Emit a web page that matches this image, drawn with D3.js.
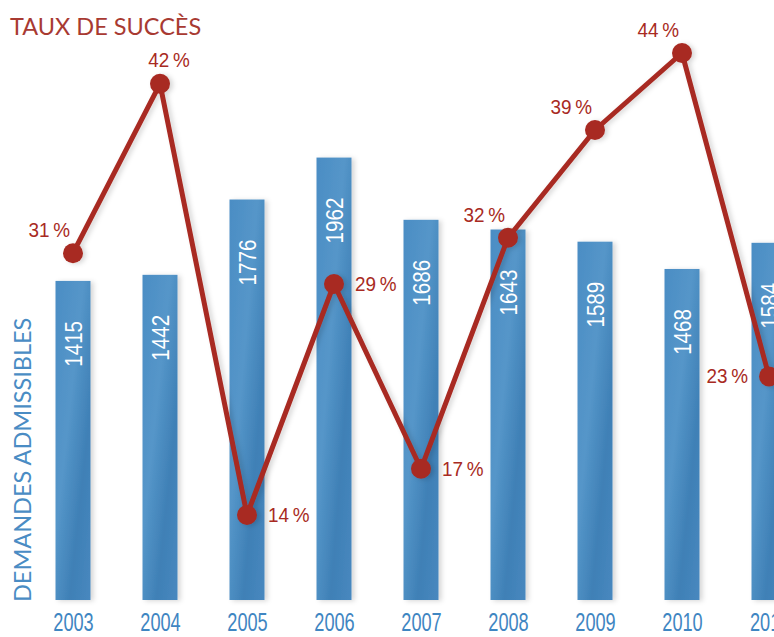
<!DOCTYPE html>
<html>
<head>
<meta charset="utf-8">
<script src="https://cdn.jsdelivr.net/npm/d3@7"></script>
<style>
  body { margin: 0; background: #fff; }
  svg { display: block; }
</style>
</head>
<body>
<svg id="chart"></svg>
<script>
// data
const years = ["2003", "2004", "2005", "2006", "2007", "2008", "2009", "2010", "2011"];
const demandes = [1415, 1442, 1776, 1962, 1686, 1643, 1589, 1468, 1584];
const taux = [31, 42, 14, 29, 17, 32, 39, 44, 23];
// where each % label sits relative to its dot
const labelSide = ["left-up", "up", "right", "right", "right", "left-up", "left-up", "left-up", "left"];

const W = 774, H = 637;
const red = "#a82a22";
const font = "'Liberation Sans', Arial, sans-serif";

const svg = d3.select("#chart").attr("width", W).attr("height", H);

const defs = svg.append("defs");
const grad = defs.append("linearGradient").attr("id", "barGrad")
    .attr("x1", 0).attr("y1", 0).attr("x2", 1).attr("y2", 1);
grad.append("stop").attr("offset", "0%").attr("stop-color", "#4b8dc4");
grad.append("stop").attr("offset", "40%").attr("stop-color", "#5596c9");
grad.append("stop").attr("offset", "70%").attr("stop-color", "#3f80b6");
grad.append("stop").attr("offset", "100%").attr("stop-color", "#4888bf");

const shadow = defs.append("filter").attr("id", "shadow")
    .attr("x", "-30%").attr("y", "-10%").attr("width", "160%").attr("height", "120%");
shadow.append("feDropShadow").attr("dx", 3).attr("dy", 1).attr("stdDeviation", 2.5)
    .attr("flood-color", "#000").attr("flood-opacity", 0.16);

// scales
const x = d3.scalePoint().domain(years).range([73, 769]);
const yBar = d3.scaleLinear().domain([0, 2000]).range([600, 149]);
const yPct = d3.scaleLinear().domain([10, 45]).range([576.6, 37.6]);
const barW = 35;

// bars
const bars = svg.append("g");
bars.selectAll("rect")
  .data(demandes)
  .join("rect")
    .attr("x", (d, i) => x(years[i]) - barW / 2)
    .attr("y", d => yBar(d))
    .attr("width", barW)
    .attr("height", d => yBar(0) - yBar(d))
    .attr("fill", "url(#barGrad)")
    .attr("filter", "url(#shadow)");

// bar values, rotated and condensed
bars.selectAll("text")
  .data(demandes)
  .join("text")
    .attr("transform", (d, i) => `translate(${x(years[i]) + 8.5},${yBar(d) + 40}) rotate(-90) scale(0.86,1)`)
    .attr("text-anchor", "end")
    .attr("fill", "#fff")
    .style("font-family", font)
    .style("font-size", "24px")
    .text(d => d);

// x axis labels
const xAxis = svg.append("g").attr("transform", "translate(0,631)")
    .call(d3.axisBottom(x).tickSize(0).tickPadding(0));
xAxis.select(".domain").remove();
xAxis.selectAll("text")
    .attr("y", 0)
    .attr("dy", 0)
    .attr("transform", "scale(0.7,1)")
    .attr("fill", "#3f86c2")
    .style("font-family", font)
    .style("font-size", "26px");

// success-rate line
const line = d3.line()
    .x((d, i) => x(years[i]))
    .y(d => yPct(d));

const lineG = svg.append("g").attr("filter", "url(#shadow)");
lineG.append("path")
    .datum(taux)
    .attr("d", line)
    .attr("fill", "none")
    .attr("stroke", red)
    .attr("stroke-width", 5)
    .attr("stroke-linejoin", "round");

lineG.selectAll("circle")
  .data(taux)
  .join("circle")
    .attr("cx", (d, i) => x(years[i]))
    .attr("cy", d => yPct(d))
    .attr("r", 10)
    .attr("fill", red);

// % labels
const off = {
  "left-up": { dx: -3, dy: -16, anchor: "end" },
  "up": { dx: 9, dy: -17, anchor: "middle" },
  "right": { dx: 21, dy: 7, anchor: "start" },
  "left": { dx: -21, dy: 7, anchor: "end" }
};
svg.append("g").selectAll("text")
  .data(taux)
  .join("text")
    .attr("transform", (d, i) => {
      const o = off[labelSide[i]];
      return `translate(${x(years[i]) + o.dx},${yPct(d) + o.dy}) scale(0.9,1)`;
    })
    .attr("text-anchor", (d, i) => off[labelSide[i]].anchor)
    .attr("fill", red)
    .style("font-family", font)
    .style("font-size", "21px")
    .text(d => d + "\u2009%");

// titles
svg.append("text")
    .attr("x", 10).attr("y", 35)
    .attr("fill", "#a83a32")
    .style("font-family", "Lato, 'Open Sans', sans-serif")
    .style("font-size", "23.5px")
    .text("TAUX DE SUCCÈS");

svg.append("text")
    .attr("transform", "translate(31,602) rotate(-90)")
    .attr("fill", "#4a8cc4")
    .style("font-family", "Lato, 'Open Sans', sans-serif")
    .style("font-size", "23.5px")
    .text("DEMANDES ADMISSIBLES");
</script>
</body>
</html>
